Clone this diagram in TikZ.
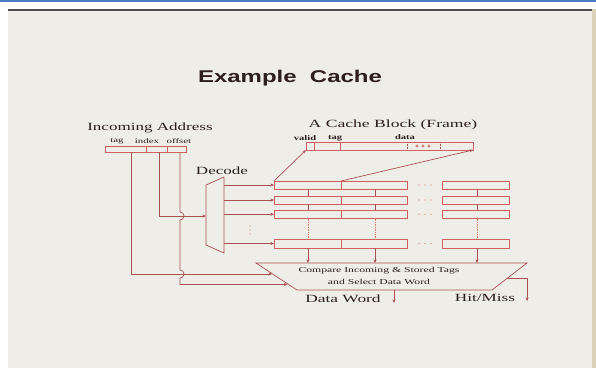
\documentclass[tikz,border=0pt]{standalone}
\usepackage{fontspec}
\setmainfont{Liberation Serif}
\newfontfamily\titlefont{Liberation Sans}
\usetikzlibrary{arrows.meta}
\definecolor{bgc}{RGB}{238,237,232}
\definecolor{wirec}{RGB}{170,82,82}
\definecolor{boxc}{RGB}{210,95,95}
\definecolor{ink}{RGB}{45,30,30}
\definecolor{dotc}{RGB}{225,120,90}
\definecolor{blueline}{RGB}{80,122,196}
\definecolor{edgec}{RGB}{220,210,185}
\newcommand{\hs}[2]{\scalebox{#1}[1]{#2}}
\begin{document}
\begin{tikzpicture}[x=1pt,y=-1pt,
  wire/.style={draw=wirec, line width=0.7pt},
  cell/.style={draw=boxc, line width=0.8pt, inner sep=0pt, outer sep=0pt, anchor=north west},
  arr/.style={wire, -{Stealth[length=3.5pt,width=3pt]}},
  lbl/.style={text=ink, inner sep=0pt},
  big/.style={lbl, font=\fontsize{11}{11}\selectfont},
  small/.style={lbl, font=\fontsize{7}{7}\selectfont},
  smallb/.style={lbl, font=\bfseries\fontsize{7}{7}\selectfont},
  cmp/.style={lbl, font=\fontsize{7.5}{7.5}\selectfont}]
\useasboundingbox (0,0) rectangle (596,368);
\fill[white] (0,0) rectangle (596,368);
\fill[bgc] (8,9) rectangle (592,368);
\fill[blueline] (0,0) rectangle (596,2);
\fill[black!70] (8,9) rectangle (592,10.5);
\fill[edgec] (592,9) rectangle (596,368);

% title
\node[lbl, font=\titlefont\bfseries\fontsize{17}{17}\selectfont] (title) at (290,78) {\hs{1.41}{Example\ \ Cache}};

% incoming address
\node[big] (inaddr) at (150,128) {\hs{1.55}{Incoming Address}};
\node[small] (ltag) at (117,141) {\hs{1.55}{tag}};
\node[small] (lindex) at (147,141) {\hs{1.55}{index}};
\node[small] (loffset) at (179,141) {\hs{1.55}{offset}};
\node[cell, minimum width=41, minimum height=6] (atag) at (105,146) {};
\node[cell, minimum width=21, minimum height=6] (aindex) at (146,146) {};
\node[cell, minimum width=19, minimum height=6] (aoffset) at (167,146) {};

% decoder
\node[big] (declbl) at (222,171) {\hs{1.55}{Decode}};
\coordinate (decTL) at (206,185);
\coordinate (decTR) at (224,177);
\coordinate (decBR) at (224,253);
\coordinate (decBL) at (206,245);
\draw[wire] (decTL) -- (decTR) -- (decBR) -- (decBL) -- cycle;
\foreach \yy in {226,230,234} \fill[dotc] (250,\yy) circle (0.7pt);

% cache rows
\foreach \n/\t/\h in {1/181/8, 2/196/8, 3/210/8.5, 4/239/9} {
  \node[cell, minimum width=67, minimum height=\h] (r\n a) at (274,\t) {};
  \node[cell, minimum width=66, minimum height=\h] (r\n b) at (341,\t) {};
  \node[cell, minimum width=67, minimum height=\h] (r\n c) at (442,\t) {};
  \foreach \xx in {419,425,431} \fill[dotc] (\xx,{\t+\h/2}) circle (0.7pt);
  \draw[arr] (r\n a.west -| decTR) -- (r\n a.west);
}
\coordinate (c1) at (308,0);
\coordinate (c2) at (375,0);
\coordinate (c3) at (477,0);
\draw[wire] (r1a.south -| c1) -- (r2a.north -| c1);
\draw[wire] (r2a.south -| c1) -- (r3a.north -| c1);
\draw[wire, densely dotted, draw=dotc] (r3a.south -| c1) -- (r4a.north -| c1);
\draw[wire] (r1b.south -| c2) -- (r2b.north -| c2);
\draw[wire] (r2b.south -| c2) -- (r3b.north -| c2);
\draw[wire, densely dotted, draw=dotc] (r3b.south -| c2) -- (r4b.north -| c2);
\draw[wire] (r1c.south -| c3) -- (r2c.north -| c3);
\draw[wire] (r2c.south -| c3) -- (r3c.north -| c3);
\draw[wire, densely dotted, draw=dotc] (r3c.south -| c3) -- (r4c.north -| c3);

% compare unit
\coordinate (cmpTL) at (256,263);
\coordinate (cmpTR) at (527,263);
\coordinate (cmpBR) at (492,290);
\coordinate (cmpBL) at (297,290);
\draw[wire] (cmpTL) -- (cmpTR) -- (cmpBR) -- (cmpBL) -- cycle;
\node[cmp] (cmp1) at (379,271) {\hs{1.56}{Compare Incoming \& Stored Tags}};
\node[cmp] (cmp2) at (379,282) {\hs{1.56}{and Select Data Word}};
\draw[arr] (r4a.south -| c1) -- (c1 |- cmpTL);
\draw[arr] (r4b.south -| c2) -- (c2 |- cmpTL);
\draw[arr] (r4c.south -| c3) -- (c3 |- cmpTL);

% address wires
\coordinate (tagx) at (131,0);
\coordinate (idxx) at (159,0);
\coordinate (offx) at (180,0);
\coordinate (tagin) at (272,274);
\coordinate (offin) at (287.5,284.5);
\draw[arr] (atag.south -| tagx) -- (tagx |- tagin) -- (tagin);
\draw[arr] (aindex.south -| idxx) -- (159,216) -- (206,216);
\draw[arr] (aoffset.south -| offx) -- (180,212) arc[start angle=90, end angle=-90, radius=4pt]
  -- (180,270) arc[start angle=90, end angle=-90, radius=4pt] -- (offx |- offin) -- (offin);

% outputs
\node[big] (dataword) at (343,299) {\hs{1.58}{Data Word}};
\node[big] (hitmiss) at (485,298) {\hs{1.56}{Hit/Miss}};
\coordinate (dwtop) at (394,290);
\coordinate (dwend) at (394,303);
\draw[arr] (dwtop) -- (dwend);
\coordinate (hmstart) at (507,278);
\coordinate (hmcorner) at (527,278);
\coordinate (hmend) at (527,301);
\draw[arr] (hmstart) -- (hmcorner) -- (hmend);

% cache block (frame)
\node[big] (blocktitle) at (393,125) {\hs{1.6}{A Cache Block (Frame)}};
\node[smallb] (lvalid) at (305,138) {\hs{1.5}{valid}};
\node[smallb] (lbtag) at (335,138) {\hs{1.5}{tag}};
\node[smallb] (ldata) at (405,137) {\hs{1.5}{data}};
\node[cell, minimum width=8, minimum height=8] (bv) at (306,142) {};
\node[cell, minimum width=26, minimum height=8] (bt) at (314,142) {};
\node[cell, minimum width=133, minimum height=8] (bd) at (340,142) {};
\draw[draw=wirec, line width=0.6pt, densely dotted] (407,142) -- (407,150);
\draw[draw=wirec, line width=0.6pt, densely dotted] (440,142) -- (440,150);
\foreach \xx in {417,423,429} \draw[boxc, line width=0.5pt] (\xx,146) circle (1.3pt);
\draw[arr] (r1a.north west) -- (bv.south west);
\draw[arr] (r1b.north west) -- (bd.south east);
\end{tikzpicture}
\end{document}
